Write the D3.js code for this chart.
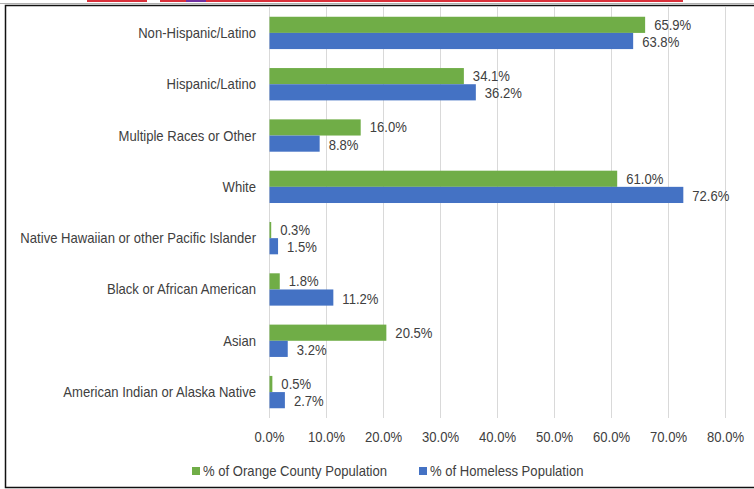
<!DOCTYPE html>
<html>
<head>
<meta charset="utf-8">
<script src="https://cdn.jsdelivr.net/npm/d3@7"></script>
<style>
  body { margin: 0; background: #fff; }
  svg { display: block; font-family: "Liberation Sans", Arial, sans-serif; }
</style>
</head>
<body>
<div id="chart"></div>
<script>
// categories top to bottom
var categories = [
  "Non-Hispanic/Latino",
  "Hispanic/Latino",
  "Multiple Races or Other",
  "White",
  "Native Hawaiian or other Pacific Islander",
  "Black or African American",
  "Asian",
  "American Indian or Alaska Native"
];
var countyPct = [65.9, 34.1, 16.0, 61.0, 0.3, 1.8, 20.5, 0.5];
var homelessPct = [63.8, 36.2, 8.8, 72.6, 1.5, 11.2, 3.2, 2.7];
var seriesNames = ["% of Orange County Population", "% of Homeless Population"];
var xTicks = [0, 10, 20, 30, 40, 50, 60, 70, 80];

var width = 754, height = 489;
var colors = ["#70ad47", "#4472c4"];
var textColor = "#404040";
var fontSize = 14;
var squeeze = 0.935; // text in the picture is a little condensed

function place(px, py) {
  return "translate(" + px + "," + py + ") scale(" + squeeze + ",1)";
}

var svg = d3.select("#chart").append("svg")
  .attr("width", width)
  .attr("height", height);

// cut-off title underlines and frame at the top
var redSegs = [[87, 147, "#d9303a"], [160, 186, "#d9303a"], [186, 206, "#7030a0"], [206, 683, "#d9303a"]];
svg.selectAll(".ul").data(redSegs).enter().append("line")
  .attr("x1", function (d) { return d[0]; })
  .attr("x2", function (d) { return d[1]; })
  .attr("y1", 1).attr("y2", 1)
  .attr("stroke", function (d) { return d[2]; })
  .attr("stroke-width", 2);

svg.append("line").attr("x1", 0).attr("x2", width).attr("y1", 3.5).attr("y2", 3.5)
  .attr("stroke", "#b0b0b0").attr("stroke-width", 1);
svg.append("path")
  .attr("d", "M" + width + ",5.5 H5.5 V487.5 H" + width)
  .attr("fill", "none").attr("stroke", "#111").attr("stroke-width", 1.5);

var x = d3.scaleLinear().domain([0, 80]).range([269.5, 725.5]);
var y = d3.scaleBand().domain(categories).range([7, 418]).paddingInner(0.37).paddingOuter(0.19);
var sub = d3.scaleBand().domain([0, 1]).range([0, y.bandwidth()]);

// gridlines
svg.append("g").selectAll("line").data(xTicks).enter().append("line")
  .attr("x1", function (d) { return x(d); })
  .attr("x2", function (d) { return x(d); })
  .attr("y1", 7).attr("y2", 418)
  .attr("stroke", "#d9d9d9").attr("stroke-width", 1);

// x tick labels
svg.append("g").selectAll("text").data(xTicks).enter().append("text")
  .attr("transform", function (d) { return place(x(d), 442); })
  .attr("text-anchor", "middle")
  .attr("font-size", fontSize)
  .attr("fill", textColor)
  .text(function (d) { return d.toFixed(1) + "%"; });

// category labels
svg.append("g").selectAll("text").data(categories).enter().append("text")
  .attr("transform", function (d) { return place(256, y(d) + y.bandwidth() / 2 + 5); })
  .attr("text-anchor", "end")
  .attr("font-size", fontSize)
  .attr("fill", textColor)
  .text(function (d) { return d; });

var series = [countyPct, homelessPct];
series.forEach(function (vals, s) {
  var g = svg.append("g");
  g.selectAll("rect").data(vals).enter().append("rect")
    .attr("x", x(0))
    .attr("y", function (d, i) { return y(categories[i]) + sub(s); })
    .attr("width", function (d) { return x(d) - x(0); })
    .attr("height", sub.bandwidth())
    .attr("fill", colors[s]);
  g.selectAll("text").data(vals).enter().append("text")
    .attr("transform", function (d, i) {
      return place(x(d) + 9, y(categories[i]) + sub(s) + sub.bandwidth() / 2 + 5 + s);
    })
    .attr("font-size", fontSize)
    .attr("fill", textColor)
    .text(function (d) { return d.toFixed(1) + "%"; });
});

// legend
var legX = [192, 419];
var leg = svg.append("g").selectAll("g").data(seriesNames).enter().append("g")
  .attr("transform", function (d, i) { return "translate(" + legX[i] + ",471)"; });
leg.append("rect").attr("x", 0).attr("y", -4).attr("width", 8).attr("height", 8)
  .attr("fill", function (d, i) { return colors[i]; });
leg.append("text")
  .attr("transform", place(11, 5))
  .attr("font-size", fontSize)
  .attr("fill", textColor)
  .text(function (d) { return d; });
</script>
</body>
</html>
